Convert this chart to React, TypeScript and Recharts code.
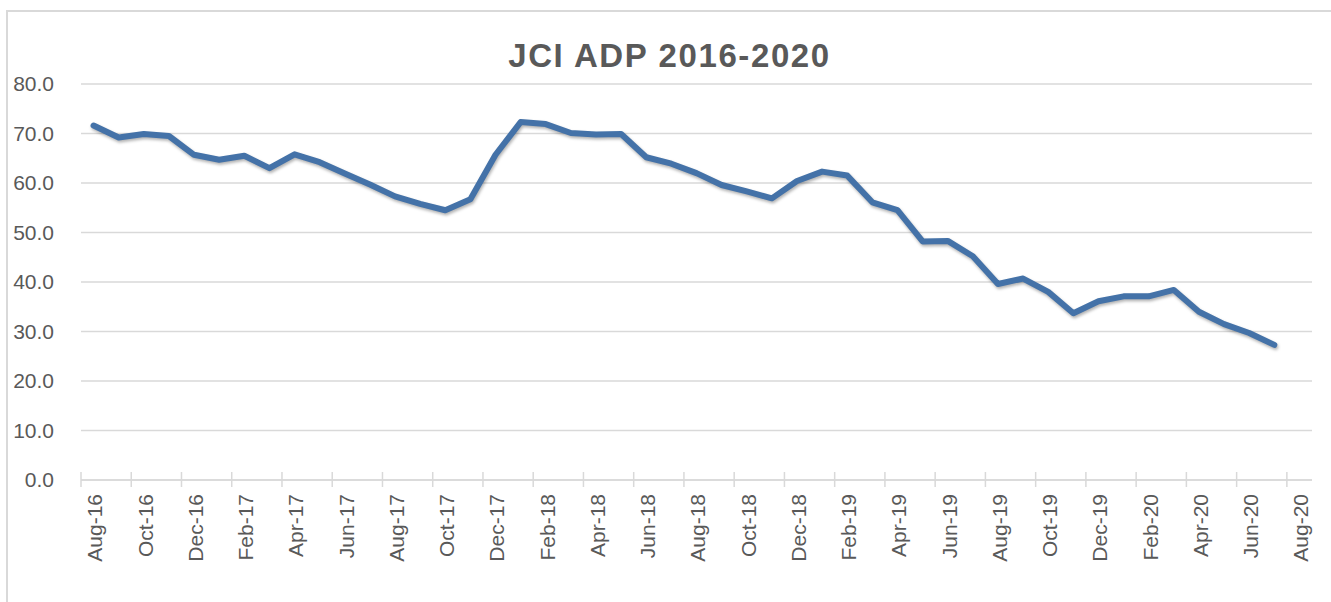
import { LineChart, Line, XAxis, YAxis, CartesianGrid } from 'recharts';

const months = [
  'Aug-16', 'Sep-16', 'Oct-16', 'Nov-16', 'Dec-16', 'Jan-17', 'Feb-17', 'Mar-17',
  'Apr-17', 'May-17', 'Jun-17', 'Jul-17', 'Aug-17', 'Sep-17', 'Oct-17', 'Nov-17',
  'Dec-17', 'Jan-18', 'Feb-18', 'Mar-18', 'Apr-18', 'May-18', 'Jun-18', 'Jul-18',
  'Aug-18', 'Sep-18', 'Oct-18', 'Nov-18', 'Dec-18', 'Jan-19', 'Feb-19', 'Mar-19',
  'Apr-19', 'May-19', 'Jun-19', 'Jul-19', 'Aug-19', 'Sep-19', 'Oct-19', 'Nov-19',
  'Dec-19', 'Jan-20', 'Feb-20', 'Mar-20', 'Apr-20', 'May-20', 'Jun-20', 'Jul-20',
  'Aug-20',
];

// Aug-20 has a slot on the axis but no value yet
const adp = [
  71.6, 69.2, 69.9, 69.5, 65.7, 64.7, 65.5, 63.0,
  65.8, 64.2, 61.9, 59.7, 57.3, 55.8, 54.5, 56.7,
  65.7, 72.3, 71.9, 70.1, 69.8, 69.9, 65.2, 63.9,
  62.0, 59.6, 58.3, 56.9, 60.4, 62.3, 61.5, 56.1,
  54.5, 48.2, 48.3, 45.2, 39.6, 40.7, 38.0, 33.7,
  36.1, 37.1, 37.1, 38.4, 34.0, 31.5, 29.7, 27.3,
  null,
];

const yTicks = [0, 10, 20, 30, 40, 50, 60, 70, 80];

const data = months.map((m, i) => ({ month: m, adp: adp[i] }));

const W = 1331;
const H = 602;
const PLOT_W = 1231;
const BAND = PLOT_W / months.length;
const FONT = '"Liberation Sans", Arial, sans-serif';

function XTick(props: any) {
  const { x, y, payload } = props;
  const edge = x - BAND / 2;
  return (
    <g>
      <line x1={edge} x2={edge} y1={y - 8} y2={y + 7} stroke="#d9d9d9" strokeWidth={1.5} />
      <text
        transform={`translate(${x + 1.5},${y + 14}) rotate(-90)`}
        textAnchor="end"
        dy="0.35em"
        fontSize={21}
        fontFamily={FONT}
        fill="#595959"
      >
        {payload.value}
      </text>
    </g>
  );
}

export default function App() {
  return (
    <div style={{ position: 'absolute', left: 0, top: 0, width: W, height: H, overflow: 'hidden', background: '#fff' }}>
      <style>{`.recharts-line-curve { filter: drop-shadow(1.5px 2.5px 1.5px rgba(0,0,0,0.3)); }`}</style>
      <div
        style={{
          position: 'absolute', left: 6, top: 10, width: 1400, height: 700,
          borderLeft: '2px solid #d9d9d9', borderTop: '2px solid #d9d9d9',
        }}
      />
      <div
        style={{
          position: 'absolute', left: 0, top: 39, width: 1339, textAlign: 'center',
          fontFamily: FONT, fontWeight: 'bold', fontSize: 33, lineHeight: '33px',
          letterSpacing: 1.6, color: '#595959',
        }}
      >
        JCI ADP 2016-2020
      </div>
      <div style={{ position: 'absolute', left: 0, top: 0 }}>
        <LineChart width={W} height={H} data={data} margin={{ top: 84, right: 19, bottom: 32, left: 0 }}>
          <CartesianGrid vertical={false} stroke="#d9d9d9" strokeWidth={1.3} />
          <XAxis
            dataKey="month"
            scale="band"
            interval={1}
            height={90}
            tickSize={0}
            tickMargin={0}
            tickLine={false}
            axisLine={{ stroke: '#d9d9d9', strokeWidth: 1.5 }}
            tick={<XTick />}
          />
          <YAxis
            width={81}
            domain={[0, 80]}
            ticks={yTicks}
            interval={0}
            axisLine={false}
            tickLine={false}
            tickSize={0}
            tickMargin={27}
            tickFormatter={(v: number) => v.toFixed(1)}
            tick={{ fontSize: 21, fontFamily: FONT, fill: '#595959' }}
          />
          <Line
            type="linear"
            dataKey="adp"
            stroke="#4472a8"
            strokeWidth={6}
            strokeLinejoin="round"
            strokeLinecap="round"
            dot={false}
            isAnimationActive={false}
          />
        </LineChart>
      </div>
    </div>
  );
}
